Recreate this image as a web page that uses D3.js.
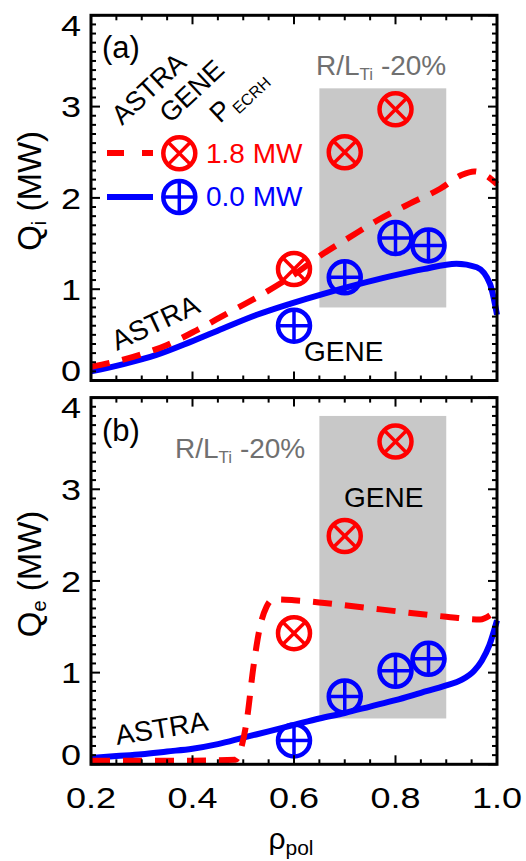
<!DOCTYPE html>
<html>
<head>
<meta charset="utf-8">
<script src="https://cdn.jsdelivr.net/npm/d3@7"></script>
<style>
  html, body { margin: 0; padding: 0; background: #fff; }
  svg { display: block; font-family: "Liberation Sans", Arial, sans-serif; }
</style>
</head>
<body>
<svg id="chart" width="526" height="861"></svg>
<script>
// ASTRA profiles, [rho_pol, Q (MW)]
const qiAstraOff = [[0.2,0.1],[0.264,0.18],[0.329,0.28],[0.395,0.42],[0.46,0.57],[0.527,0.72],
  [0.592,0.84],[0.658,0.95],[0.724,1.05],[0.789,1.14],[0.855,1.22],[0.92,1.28],[0.96,1.24],
  [0.986,1.06],[1.0,0.72]];
const qiAstraOn = [[0.2,0.15],[0.283,0.26],[0.35,0.39],[0.408,0.55],[0.467,0.73],[0.533,0.93],
  [0.592,1.13],[0.658,1.39],[0.71,1.57],[0.763,1.75],[0.829,1.94],[0.888,2.1],[0.93,2.25],
  [0.955,2.29],[0.98,2.24],[1.0,2.15]];
const qeAstraOff = [[0.2,0.07],[0.25,0.09],[0.3,0.11],[0.35,0.14],[0.4,0.17],[0.45,0.22],
  [0.5,0.29],[0.55,0.36],[0.6,0.43],[0.65,0.5],[0.7,0.56],[0.75,0.63],[0.8,0.7],[0.85,0.78],
  [0.9,0.86],[0.93,0.92],[0.955,1.02],[0.97,1.13],[0.985,1.3],[1.0,1.57]];
const qeAstraOn = [[0.2,0.04],[0.3,0.04],[0.4,0.04],[0.485,0.05],[0.497,0.2],[0.507,0.48],
  [0.52,1.06],[0.533,1.5],[0.546,1.72],[0.56,1.8],[0.6,1.79],[0.66,1.76],[0.77,1.69],
  [0.9,1.61],[0.967,1.58],[0.99,1.64],[1.0,1.68]];

// GENE flux-tube results
const geneRhoOn = [0.6, 0.7, 0.8];
const geneRhoOff = [0.6, 0.7, 0.8, 0.865];
const qiGeneOn = [1.22, 2.5, 2.97];
const qiGeneOff = [0.6, 1.13, 1.56, 1.48];
const qeGeneOn = [1.43, 2.49, 3.52];
const qeGeneOff = [0.26, 0.74, 1.02, 1.15];

// R/L_Ti -20% band
const bandRho = [0.65, 0.9];
const qiBand = [0.8, 3.2];
const qeBand = [0.5, 3.8];

const xTicks = [0.2, 0.4, 0.6, 0.8, 1.0];
const yTicks = [0, 1, 2, 3, 4];

const RED = '#ff0000', BLUE = '#0000ff', GREY = '#c8c8c8';
const svg = d3.select('#chart');

const x = d3.scaleLinear().domain([0.2, 1.0]).range([91, 497]);

const panels = [
  {top: 15.3, bottom: 380.5, on: qiAstraOn, off: qiAstraOff, gOn: qiGeneOn, gOff: qiGeneOff,
   band: qiBand, label: 'i', tag: '(a)', showX: false},
  {top: 397.6, bottom: 764.3, on: qeAstraOn, off: qeAstraOff, gOn: qeGeneOn, gOff: qeGeneOff,
   band: qeBand, label: 'e', tag: '(b)', showX: true}
];

function marker (g, cx, cy, color, cross) {
  const r = 16, k = cross ? r * Math.SQRT1_2 : r;
  g.append('circle').attr('cx', cx).attr('cy', cy).attr('r', r)
    .attr('fill', 'none').attr('stroke', color).attr('stroke-width', 4.5);
  const segs = cross ? [[-k, -k, k, k], [-k, k, k, -k]] : [[-k, 0, k, 0], [0, -k, 0, k]];
  segs.forEach(s => g.append('line')
    .attr('x1', cx + s[0]).attr('y1', cy + s[1]).attr('x2', cx + s[2]).attr('y2', cy + s[3])
    .attr('stroke', color).attr('stroke-width', 3.5));
}

panels.forEach(p => {
  const y = d3.scaleLinear().domain([0, 4]).range([p.bottom, p.top]);
  const g = svg.append('g');

  // shaded band
  g.append('rect')
    .attr('x', x(bandRho[0])).attr('y', y(p.band[1]))
    .attr('width', x(bandRho[1]) - x(bandRho[0]))
    .attr('height', y(p.band[0]) - y(p.band[1]))
    .attr('fill', GREY);

  const line = d3.line().x(d => x(d[0])).y(d => y(d[1])).curve(d3.curveMonotoneX);

  g.append('path').datum(p.off).attr('d', line)
    .attr('fill', 'none').attr('stroke', BLUE).attr('stroke-width', 6);
  g.append('path').datum(p.on).attr('d', line)
    .attr('fill', 'none').attr('stroke', RED).attr('stroke-width', 6)
    .attr('stroke-dasharray', '19,13');

  geneRhoOff.forEach((r, i) => marker(g, x(r), y(p.gOff[i]), BLUE, false));
  geneRhoOn.forEach((r, i) => marker(g, x(r), y(p.gOn[i]), RED, true));

  // frame
  g.append('rect')
    .attr('x', x.range()[0]).attr('y', p.top)
    .attr('width', x.range()[1] - x.range()[0]).attr('height', p.bottom - p.top)
    .attr('fill', 'none').attr('stroke', '#000').attr('stroke-width', 3);

  // ticks, inward on all sides
  const ticks = g.append('g').attr('stroke', '#000').attr('stroke-width', 2);
  d3.range(0, 17).map(i => 0.2 + i * 0.05).forEach((v, i) => {
    const len = i % 4 === 0 ? 9 : 5, xx = x(v);
    ticks.append('line').attr('x1', xx).attr('x2', xx).attr('y1', p.bottom).attr('y2', p.bottom - len);
    ticks.append('line').attr('x1', xx).attr('x2', xx).attr('y1', p.top).attr('y2', p.top + len);
  });
  d3.range(0, 41).map(i => i * 0.1).forEach((v, i) => {
    const len = i % 10 === 0 ? 9 : 5, yy = y(v);
    ticks.append('line').attr('y1', yy).attr('y2', yy).attr('x1', x.range()[0]).attr('x2', x.range()[0] + len);
    ticks.append('line').attr('y1', yy).attr('y2', yy).attr('x1', x.range()[1]).attr('x2', x.range()[1] - len);
  });

  // y tick labels (end labels pulled inside like the original)
  yTicks.forEach(v => {
    const c = Math.min(Math.max(y(v), p.top + 10), p.bottom - 10);
    g.append('text')
      .attr('transform', `translate(81,${c + 10.7}) scale(1.2,1)`)
      .attr('text-anchor', 'end').attr('font-size', 30).text(v);
  });

  if (p.showX) {
    xTicks.forEach(v => {
      g.append('text')
        .attr('transform', `translate(${x(v)},808) scale(1.2,1)`)
        .attr('text-anchor', 'middle').attr('font-size', 30).text(d3.format('.1f')(v));
    });
  }

  // y title
  const yt = g.append('text')
    .attr('transform', `translate(41,${(p.top + p.bottom) / 2 - 7}) rotate(-90)`)
    .attr('text-anchor', 'middle').attr('font-size', 33);
  yt.append('tspan').text('Q');
  yt.append('tspan').attr('font-size', 20).attr('dy', 5).text(p.label);
  yt.append('tspan').attr('dy', -5).text(' (MW)');

  // panel tag
  g.append('text').attr('x', 102).attr('y', p.top + 43).attr('font-size', 31).text(p.tag);
});

// x title
const xt = svg.append('text').attr('x', 291).attr('y', 849)
  .attr('text-anchor', 'middle').attr('font-size', 30);
xt.append('tspan').text('ρ');
xt.append('tspan').attr('font-size', 21).attr('dy', 6).text('pol');

// band labels
function bandLabel (px, py) {
  const t = svg.append('text').attr('x', px).attr('y', py).attr('font-size', 28).attr('fill', '#707070');
  t.append('tspan').text('R/L');
  t.append('tspan').attr('font-size', 17).attr('dy', 5).text('Ti');
  t.append('tspan').attr('dy', -5).text(' -20%');
}
bandLabel(316, 75);
bandLabel(175, 458);

// curve / point annotations
function note (txt, px, py, rot, size) {
  svg.append('text').attr('transform', `translate(${px},${py}) rotate(${rot})`)
    .attr('font-size', size).text(txt);
}
note('ASTRA', 117, 351, -25, 28);
note('GENE', 304, 361, 0, 28);
note('ASTRA', 117, 745, -9, 28);
note('GENE', 344, 507, 0, 28);

// legend header
note('ASTRA', 122, 126, -43, 27);
note('GENE', 170, 124, -43, 27);
const ph = svg.append('text').attr('transform', 'translate(220,124) rotate(-43)').attr('font-size', 27);
ph.append('tspan').text('P');
ph.append('tspan').attr('font-size', 16).attr('dx', 2).attr('dy', 6).text('ECRH');

// legend rows
svg.append('line').attr('x1', 107).attr('x2', 153).attr('y1', 153).attr('y2', 153)
  .attr('stroke', RED).attr('stroke-width', 6).attr('stroke-dasharray', '17,18');
marker(svg, 179.3, 153.3, RED, true);
svg.append('text').attr('x', 206).attr('y', 163).attr('font-size', 28).attr('fill', RED).text('1.8 MW');

svg.append('line').attr('x1', 107).attr('x2', 153).attr('y1', 197).attr('y2', 197)
  .attr('stroke', BLUE).attr('stroke-width', 6);
marker(svg, 179.3, 197, BLUE, false);
svg.append('text').attr('x', 206).attr('y', 206).attr('font-size', 28).attr('fill', BLUE).text('0.0 MW');
</script>
</body>
</html>
